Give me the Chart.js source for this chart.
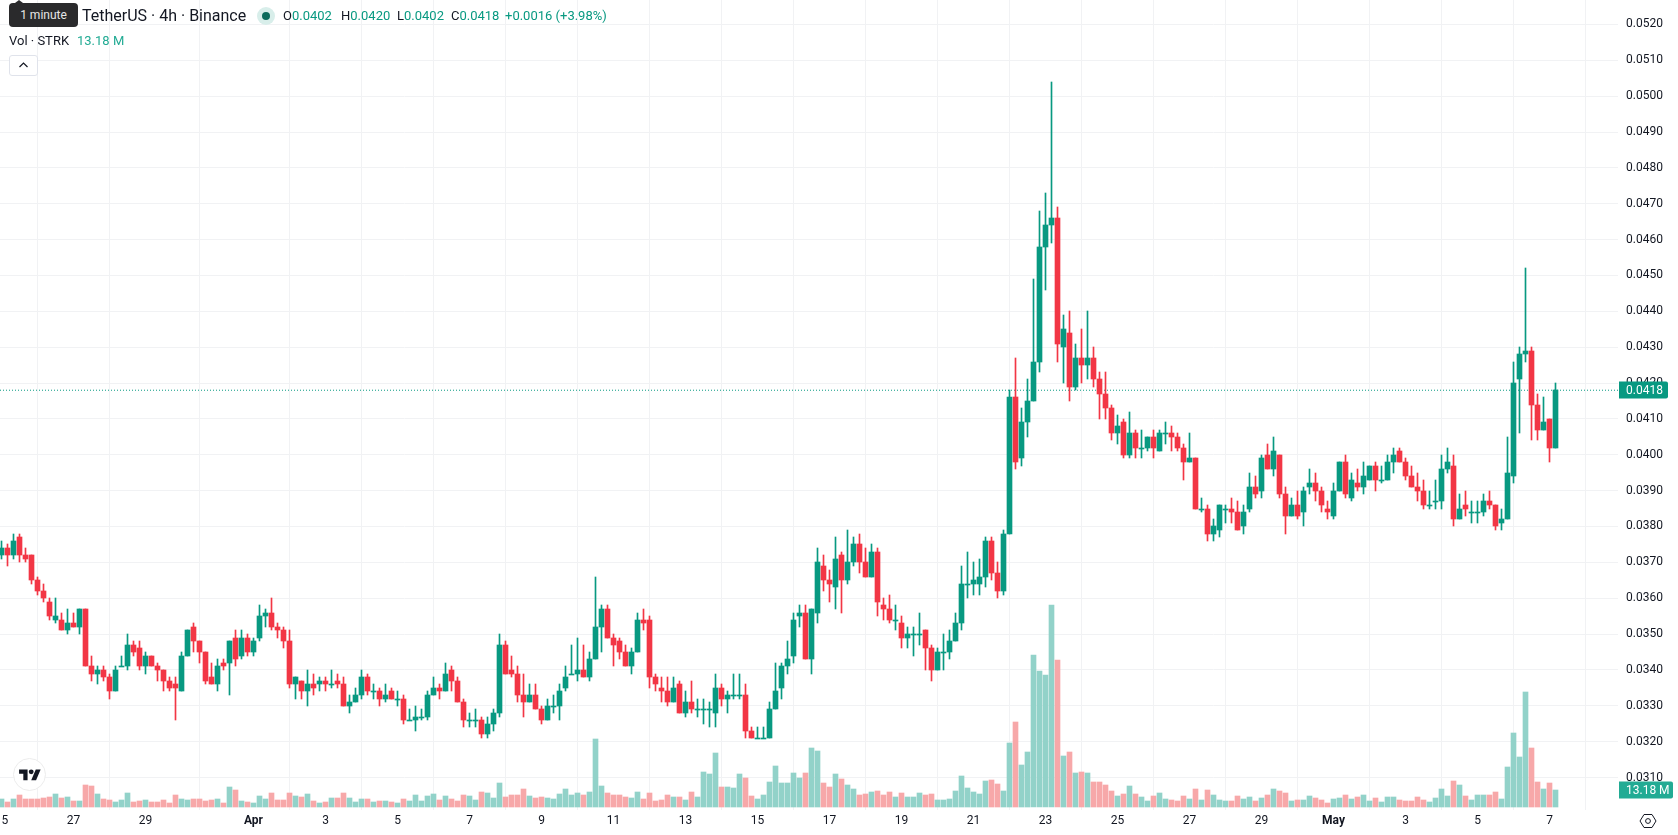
<!DOCTYPE html>
<html>
<head>
<meta charset="utf-8">
<title>STRK / TetherUS 4h</title>
<script src="https://cdn.jsdelivr.net/npm/chart.js@4"></script>
<style>
  html, body { margin: 0; padding: 0; background: #fff; width: 1678px; height: 835px; overflow: hidden; }
  body { position: relative; font-family: Roboto, sans-serif; color: #131722; }
  canvas { position: absolute; left: 0; top: 0; }
  .hud { position: absolute; white-space: pre; line-height: 18px; }
  .up { color: #089981; }
  .vol { color: #22ab94; }
  #tip { position: absolute; left: 9px; top: 3px; width: 69px; height: 24px; background: #2a2a2c; border-radius: 4px;
         color: #e6e6e6; font-size: 12px; line-height: 24px; text-align: center; }
  #tip:before { content: ""; position: absolute; left: 6px; top: -3px; border: 4px solid transparent; border-top: 0; border-bottom: 3px solid #2a2a2c; }
  #dot { position: absolute; left: 257px; top: 7px; width: 18px; height: 18px; border-radius: 50%; background: #d8eeea; }
  #dot:after { content: ""; position: absolute; left: 5px; top: 5px; width: 8px; height: 8px; border-radius: 50%; background: #0b6b5c; }
  #fold { position: absolute; left: 9px; top: 55px; width: 27px; height: 19px; border: 1px solid #e0e3eb; border-radius: 3px; background: #fff; }
  #fold svg { position: absolute; left: 8px; top: 5px; }
  #logo { position: absolute; left: 13px; top: 758px; width: 31px; height: 31px; border: 1px solid #ececec; border-radius: 50%; background: #fff; }
  #logo svg { position: absolute; left: 5px; top: 8px; }
  #gear { position: absolute; left: 1639px; top: 812px; }
</style>
</head>
<body>
<canvas id="chart" width="1678" height="835"></canvas>
<div id="tip">1 minute</div>
<div class="hud" style="left:82px;top:7px;font-size:16px">TetherUS · 4h · Binance</div>
<div id="dot"></div>
<div class="hud" style="left:283px;top:7px;font-size:13px">O<span class="up">0.0402</span></div>
<div class="hud" style="left:341px;top:7px;font-size:13px">H<span class="up">0.0420</span></div>
<div class="hud" style="left:397px;top:7px;font-size:13px">L<span class="up">0.0402</span></div>
<div class="hud" style="left:451px;top:7px;font-size:13px">C<span class="up">0.0418</span></div>
<div class="hud up" style="left:505px;top:7px;font-size:13px">+0.0016 (+3.98%)</div>
<div class="hud" style="left:9px;top:32px;font-size:13px">Vol · STRK</div>
<div class="hud vol" style="left:77px;top:32px;font-size:13px">13.18 M</div>
<div id="fold"><svg width="11" height="8" viewBox="0 0 11 8"><path d="M1.5 6 5.5 2l4 4" fill="none" stroke="#131722" stroke-width="1.2"/></svg></div>
<div id="logo"><svg width="22" height="17" viewBox="0 0 36 28"><path d="M14 22H7V11H0V4h14v18zM28 22h-8l7.5-18h8L28 22z" fill="#131722"/><circle cx="20" cy="8" r="4" fill="#131722"/></svg></div>
<svg id="gear" width="18" height="18" viewBox="0 0 18 18"><path d="M5 2.5h8L17 9l-4 6.5H5L1 9z" fill="none" stroke="#131722" stroke-width="1"/><circle cx="9" cy="9" r="2.4" fill="none" stroke="#131722" stroke-width="1"/></svg>

<script>
// STRK/USDT 4h candles, oldest first, starting 25 Mar 00:00.
const opens = [
0.0372,0.0374,0.0372,0.0377,0.0372,0.0372,0.0365,0.0362,0.0359,0.0354,
0.0354,0.0351,0.0353,0.0352,0.0357,0.0341,0.0339,0.0340,0.0338,0.0334,
0.0341,0.0341,0.0347,0.0346,0.0341,0.0344,0.0341,0.0340,0.0337,0.0336,
0.0334,0.0344,0.0352,0.0348,0.0345,0.0338,0.0336,0.0342,0.0342,0.0349,
0.0344,0.0349,0.0345,0.0349,0.0355,0.0356,0.0352,0.0351,0.0348,0.0336,
0.0337,0.0334,0.0336,0.0336,0.0337,0.0336,0.0337,0.0336,0.0330,0.0331,
0.0333,0.0338,0.0334,0.0334,0.0332,0.0334,0.0332,0.0332,0.0326,0.0326,
0.0327,0.0327,0.0333,0.0335,0.0334,0.0340,0.0337,0.0331,0.0326,0.0326,
0.0326,0.0322,0.0325,0.0328,0.0347,0.0340,0.0339,0.0333,0.0331,0.0333,
0.0329,0.0326,0.0330,0.0330,0.0335,0.0339,0.0339,0.0340,0.0338,0.0343,
0.0352,0.0357,0.0349,0.0348,0.0345,0.0341,0.0345,0.0354,0.0354,0.0338,
0.0335,0.0334,0.0331,0.0336,0.0328,0.0331,0.0329,0.0329,0.0329,0.0328,
0.0335,0.0332,0.0333,0.0333,0.0333,0.0323,0.0321,0.0321,0.0321,0.0329,
0.0335,0.0341,0.0344,0.0355,0.0356,0.0343,0.0356,0.0369,0.0365,0.0363,
0.0372,0.0365,0.0370,0.0375,0.0370,0.0366,0.0373,0.0358,0.0357,0.0354,
0.0353,0.0349,0.0350,0.0350,0.0351,0.0346,0.0340,0.0345,0.0345,0.0348,
0.0353,0.0364,0.0364,0.0364,0.0366,0.0376,0.0367,0.0362,0.0378,0.0416,
0.0399,0.0409,0.0415,0.0426,0.0458,0.0464,0.0466,0.0430,0.0434,0.0419,
0.0427,0.0425,0.0427,0.0421,0.0417,0.0413,0.0406,0.0409,0.0400,0.0406,
0.0402,0.0402,0.0405,0.0401,0.0406,0.0406,0.0405,0.0402,0.0398,0.0399,
0.0385,0.0385,0.0378,0.0379,0.0385,0.0385,0.0384,0.0380,0.0385,0.0391,
0.0390,0.0400,0.0396,0.0400,0.0389,0.0383,0.0386,0.0384,0.0391,0.0392,
0.0390,0.0385,0.0383,0.0390,0.0398,0.0388,0.0392,0.0391,0.0393,0.0397,
0.0393,0.0393,0.0398,0.0401,0.0398,0.0394,0.0391,0.0390,0.0386,0.0387,
0.0387,0.0396,0.0397,0.0382,0.0386,0.0384,0.0384,0.0384,0.0387,0.0386,
0.0381,0.0382,0.0394,0.0421,0.0428,0.0429,0.0414,0.0407,0.0410,0.0402];

const highs = [
0.0376,0.0375,0.0378,0.0378,0.0374,0.0372,0.0366,0.0364,0.0360,0.0360,
0.0356,0.0357,0.0356,0.0357,0.0357,0.0344,0.0341,0.0341,0.0339,0.0341,
0.0344,0.0350,0.0348,0.0348,0.0345,0.0344,0.0342,0.0340,0.0338,0.0338,
0.0345,0.0351,0.0353,0.0348,0.0345,0.0342,0.0343,0.0343,0.0348,0.0351,
0.0351,0.0350,0.0349,0.0358,0.0357,0.0360,0.0353,0.0352,0.0351,0.0338,
0.0337,0.0340,0.0339,0.0338,0.0338,0.0340,0.0339,0.0338,0.0333,0.0335,
0.0340,0.0339,0.0336,0.0335,0.0336,0.0335,0.0334,0.0333,0.0329,0.0330,
0.0329,0.0334,0.0338,0.0336,0.0342,0.0341,0.0338,0.0332,0.0328,0.0329,
0.0327,0.0327,0.0329,0.0350,0.0348,0.0344,0.0341,0.0339,0.0336,0.0336,
0.0330,0.0332,0.0333,0.0336,0.0341,0.0347,0.0349,0.0347,0.0345,0.0366,
0.0358,0.0358,0.0350,0.0349,0.0347,0.0346,0.0356,0.0357,0.0355,0.0339,
0.0338,0.0338,0.0338,0.0337,0.0334,0.0337,0.0332,0.0332,0.0331,0.0339,
0.0336,0.0334,0.0339,0.0339,0.0336,0.0324,0.0324,0.0324,0.0331,0.0342,
0.0342,0.0348,0.0356,0.0358,0.0358,0.0357,0.0374,0.0372,0.0368,0.0377,
0.0373,0.0379,0.0377,0.0378,0.0374,0.0375,0.0374,0.0360,0.0361,0.0358,
0.0355,0.0352,0.0352,0.0356,0.0351,0.0347,0.0346,0.0350,0.0351,0.0356,
0.0369,0.0373,0.0370,0.0371,0.0377,0.0377,0.0370,0.0379,0.0418,0.0427,
0.0413,0.0421,0.0449,0.0468,0.0473,0.0504,0.0469,0.0439,0.0440,0.0431,
0.0435,0.0440,0.0430,0.0423,0.0423,0.0414,0.0411,0.0410,0.0412,0.0407,
0.0407,0.0405,0.0407,0.0407,0.0409,0.0408,0.0406,0.0403,0.0406,0.0399,
0.0388,0.0386,0.0382,0.0386,0.0386,0.0388,0.0387,0.0386,0.0395,0.0394,
0.0400,0.0403,0.0405,0.0400,0.0391,0.0388,0.0390,0.0391,0.0396,0.0395,
0.0391,0.0387,0.0392,0.0398,0.0400,0.0395,0.0396,0.0398,0.0397,0.0398,
0.0397,0.0400,0.0402,0.0402,0.0399,0.0397,0.0395,0.0393,0.0390,0.0393,
0.0400,0.0402,0.0400,0.0389,0.0390,0.0387,0.0387,0.0389,0.0390,0.0386,
0.0385,0.0405,0.0426,0.0430,0.0452,0.0430,0.0417,0.0416,0.0410,0.0420];

const lows = [
0.0371,0.0369,0.0371,0.0370,0.0370,0.0364,0.0361,0.0359,0.0354,0.0353,
0.0351,0.0350,0.0352,0.0350,0.0341,0.0337,0.0336,0.0337,0.0332,0.0334,
0.0341,0.0340,0.0344,0.0340,0.0339,0.0341,0.0337,0.0334,0.0334,0.0326,
0.0334,0.0344,0.0345,0.0342,0.0336,0.0336,0.0334,0.0340,0.0333,0.0341,
0.0343,0.0344,0.0344,0.0348,0.0352,0.0351,0.0349,0.0346,0.0335,0.0332,
0.0332,0.0330,0.0333,0.0334,0.0334,0.0335,0.0335,0.0330,0.0328,0.0331,
0.0332,0.0333,0.0332,0.0330,0.0331,0.0332,0.0330,0.0325,0.0326,0.0323,
0.0326,0.0326,0.0333,0.0332,0.0334,0.0334,0.0331,0.0324,0.0324,0.0324,
0.0321,0.0321,0.0323,0.0327,0.0339,0.0338,0.0331,0.0327,0.0331,0.0329,
0.0325,0.0326,0.0328,0.0326,0.0334,0.0339,0.0337,0.0338,0.0337,0.0343,
0.0345,0.0349,0.0341,0.0343,0.0341,0.0339,0.0345,0.0351,0.0335,0.0334,
0.0331,0.0330,0.0331,0.0328,0.0327,0.0328,0.0327,0.0325,0.0324,0.0324,
0.0330,0.0328,0.0332,0.0332,0.0321,0.0321,0.0321,0.0321,0.0321,0.0329,
0.0332,0.0339,0.0342,0.0352,0.0343,0.0339,0.0353,0.0362,0.0359,0.0357,
0.0356,0.0364,0.0369,0.0367,0.0366,0.0366,0.0355,0.0354,0.0353,0.0351,
0.0346,0.0346,0.0344,0.0347,0.0340,0.0337,0.0340,0.0340,0.0343,0.0348,
0.0351,0.0360,0.0361,0.0361,0.0363,0.0365,0.0360,0.0361,0.0378,0.0396,
0.0397,0.0405,0.0415,0.0423,0.0446,0.0459,0.0426,0.0420,0.0415,0.0418,
0.0420,0.0421,0.0419,0.0410,0.0410,0.0404,0.0403,0.0399,0.0399,0.0399,
0.0399,0.0401,0.0399,0.0401,0.0403,0.0401,0.0401,0.0393,0.0398,0.0385,
0.0384,0.0376,0.0376,0.0377,0.0381,0.0381,0.0379,0.0378,0.0384,0.0388,
0.0388,0.0396,0.0394,0.0388,0.0378,0.0383,0.0382,0.0380,0.0389,0.0387,
0.0384,0.0382,0.0382,0.0390,0.0388,0.0387,0.0390,0.0389,0.0393,0.0390,
0.0392,0.0393,0.0395,0.0398,0.0393,0.0391,0.0387,0.0385,0.0385,0.0385,
0.0385,0.0395,0.0380,0.0382,0.0383,0.0381,0.0381,0.0383,0.0385,0.0379,
0.0379,0.0382,0.0392,0.0406,0.0426,0.0404,0.0404,0.0407,0.0398,0.0402];

const closes = [
0.0374,0.0372,0.0376,0.0372,0.0371,0.0365,0.0362,0.0360,0.0355,0.0355,
0.0351,0.0353,0.0352,0.0357,0.0341,0.0339,0.0340,0.0338,0.0334,0.0340,
0.0341,0.0347,0.0345,0.0341,0.0344,0.0341,0.0340,0.0337,0.0335,0.0335,
0.0344,0.0351,0.0348,0.0345,0.0337,0.0336,0.0341,0.0341,0.0348,0.0343,
0.0349,0.0345,0.0348,0.0355,0.0356,0.0352,0.0351,0.0348,0.0336,0.0338,
0.0334,0.0336,0.0335,0.0337,0.0336,0.0336,0.0336,0.0330,0.0331,0.0333,
0.0338,0.0334,0.0334,0.0332,0.0333,0.0332,0.0332,0.0326,0.0326,0.0327,
0.0327,0.0333,0.0335,0.0334,0.0339,0.0337,0.0331,0.0326,0.0326,0.0326,
0.0322,0.0325,0.0328,0.0347,0.0339,0.0339,0.0333,0.0331,0.0333,0.0329,
0.0326,0.0330,0.0330,0.0334,0.0338,0.0339,0.0340,0.0338,0.0343,0.0352,
0.0357,0.0349,0.0347,0.0345,0.0341,0.0345,0.0354,0.0353,0.0338,0.0336,
0.0334,0.0331,0.0335,0.0328,0.0331,0.0329,0.0329,0.0329,0.0329,0.0335,
0.0332,0.0333,0.0333,0.0333,0.0323,0.0321,0.0321,0.0321,0.0329,0.0334,
0.0341,0.0343,0.0354,0.0356,0.0343,0.0357,0.0370,0.0365,0.0364,0.0371,
0.0365,0.0370,0.0375,0.0370,0.0366,0.0373,0.0359,0.0357,0.0354,0.0354,
0.0349,0.0350,0.0350,0.0350,0.0346,0.0340,0.0345,0.0345,0.0348,0.0353,
0.0364,0.0364,0.0365,0.0366,0.0376,0.0367,0.0362,0.0378,0.0416,0.0398,
0.0409,0.0415,0.0426,0.0458,0.0464,0.0466,0.0431,0.0435,0.0419,0.0427,
0.0425,0.0427,0.0421,0.0417,0.0413,0.0406,0.0408,0.0400,0.0406,0.0402,
0.0402,0.0405,0.0402,0.0406,0.0406,0.0405,0.0402,0.0398,0.0399,0.0385,
0.0385,0.0378,0.0380,0.0386,0.0385,0.0384,0.0379,0.0384,0.0391,0.0389,
0.0399,0.0396,0.0401,0.0389,0.0383,0.0386,0.0383,0.0390,0.0392,0.0390,
0.0386,0.0384,0.0390,0.0398,0.0389,0.0393,0.0391,0.0394,0.0397,0.0393,
0.0393,0.0398,0.0400,0.0398,0.0394,0.0391,0.0390,0.0386,0.0386,0.0387,
0.0396,0.0398,0.0382,0.0385,0.0385,0.0384,0.0384,0.0387,0.0386,0.0380,
0.0382,0.0395,0.0420,0.0428,0.0429,0.0414,0.0407,0.0409,0.0402,0.0418];

// Traded volume per candle, in millions of STRK.
const volumes = [
6.2,3.9,6.2,9.3,6.2,6.2,6.2,7.0,7.8,10.1,
7.0,7.8,4.7,4.7,17.1,16.3,10.1,6.2,5.4,3.9,
5.4,10.9,3.9,4.7,5.4,3.9,3.9,5.4,3.1,9.3,
6.2,5.4,6.2,6.2,4.7,5.4,6.2,3.1,15.5,13.2,
4.7,3.9,3.1,8.5,6.2,10.9,5.4,5.4,10.9,8.5,
7.8,10.1,4.7,3.1,3.9,7.0,7.0,10.9,7.0,3.9,
6.2,6.2,3.9,4.7,4.7,3.9,3.1,6.2,4.7,9.3,
4.7,8.5,10.1,5.4,8.5,6.2,4.7,9.3,8.5,5.4,
11.6,10.9,7.0,18.6,7.8,9.3,9.3,14.0,8.5,7.0,
7.8,7.0,6.2,10.1,14.0,9.3,10.9,9.3,11.6,52.7,
16.3,10.9,9.3,9.3,7.8,7.0,11.6,6.2,10.9,4.7,
5.4,9.3,7.8,7.8,5.4,11.6,7.8,27.1,25.6,41.9,
15.5,15.5,14.7,25.6,22.5,8.5,6.2,9.3,19.4,31.8,
18.6,18.6,26.4,22.5,26.4,45.7,43.4,18.6,15.5,25.6,
21.7,17.1,14.0,9.3,10.1,11.6,12.4,9.3,11.6,7.8,
10.9,7.8,7.8,10.9,9.3,10.1,5.4,5.4,6.2,12.4,
24.0,14.7,11.6,10.1,20.2,20.9,17.8,12.4,49.6,65.9,
32.6,42.6,117.8,105.4,102.3,156.8,114.0,39.5,42.6,26.4,
27.1,26.4,19.4,19.4,17.1,12.4,8.5,10.1,16.3,10.1,
7.8,4.7,8.5,10.9,6.2,5.4,4.7,8.5,6.2,14.0,
5.4,13.2,9.3,5.4,4.7,4.7,8.5,6.2,7.8,4.7,
7.0,9.3,14.0,12.4,10.9,4.7,5.4,5.4,8.5,7.0,
5.4,3.1,6.2,7.0,9.3,6.2,7.8,9.3,4.7,7.0,
3.9,7.8,7.8,5.4,4.7,4.7,7.8,5.4,3.9,7.0,
14.0,8.5,20.2,17.1,8.5,5.4,9.3,9.3,9.3,11.6,
6.2,31.0,57.4,38.8,89.1,45.7,19.4,14.0,18.6,13.18];

// Date axis: candle index of each labelled tick, and its text.
// The first tick sits on the pane's left edge, so only the last digit of its date is shown.
const dateTicks = [0,12,24,42,54,66,78,90,102,114,126,138,150,162,174,186,198,210,222,234,246,258];
const dateLabels = ['\u20075','27','29','Apr','3','5','7','9','11','13','15','17','19','21','23','25','27','29','May','3','5','7'];
const priceTicks = [0.031,0.032,0.033,0.034,0.035,0.036,0.037,0.038,0.039,0.040,0.041,0.042,0.043,0.044,0.045,0.046,0.047,0.048,0.049,0.050,0.051,0.052];

const UP = '#089981', DOWN = '#f23645', UP_VOL = '#92d2c9', DOWN_VOL = '#f7a8a9', GRID = '#f1f2f4';
const lastClose = closes[closes.length - 1];
const lastVolume = volumes[volumes.length - 1];
const rising = closes.map((c, i) => c >= opens[i]);
const upDown = rising.map(r => r ? UP : DOWN);
const FONT = 'Roboto, sans-serif';

// Bars are snapped to whole pixels so candles stay crisp; flat candles keep a 1px body.
const crispBars = {
  id: 'crispBars',
  beforeDatasetsDraw(chart) {
    chart.getSortedVisibleDatasetMetas().forEach(meta => {
      if (meta.type !== 'bar') return;
      meta.data.forEach(el => {
        const top = Math.round(Math.min(el.y, el.base));
        let bottom = Math.round(Math.max(el.y, el.base));
        if (bottom === top) bottom = top + 1;
        el.y = top; el.base = bottom;
      });
    });
  }
};

function drawTag(ctx, left, right, centre, fill, text) {
  ctx.fillStyle = fill;
  ctx.beginPath();
  ctx.roundRect(left, Math.round(centre) - 8.5, right - left, 17, [0, 2, 2, 0]);
  ctx.fill();
  ctx.fillStyle = '#fff';
  ctx.font = '12px ' + FONT;
  ctx.textAlign = 'left';
  ctx.textBaseline = 'middle';
  ctx.fillText(text, left + 7, Math.round(centre) + 0.5);
}

// Last-price and last-volume tags sit over the price axis.
const axisTags = {
  id: 'axisTags',
  afterDraw(chart) {
    const { ctx, scales } = chart;
    ctx.save();
    drawTag(ctx, 1619, 1668, scales.y.getPixelForValue(lastClose), UP, lastClose.toFixed(4));
    drawTag(ctx, 1619, 1673, scales.yVol.getPixelForValue(lastVolume), '#22ab94', lastVolume.toFixed(2) + ' M');
    ctx.restore();
  }
};

const idx = opens.map((_, i) => i);
new Chart(document.getElementById('chart'), {
  type: 'bar',
  data: {
    datasets: [
      { label: 'Body', order: 1, barThickness: 5, backgroundColor: upDown,
        data: idx.map(i => ({ x: i, y: [opens[i], closes[i]] })) },
      { label: 'Wick', order: 2, barThickness: 1, backgroundColor: upDown,
        data: idx.map(i => ({ x: i, y: [lows[i], highs[i]] })) },
      { label: 'Volume', order: 4, barThickness: 5, yAxisID: 'yVol',
        backgroundColor: rising.map(r => r ? UP_VOL : DOWN_VOL),
        data: idx.map(i => ({ x: i, y: volumes[i] })) },
      { label: 'Last', type: 'line', order: 3, borderColor: UP, borderWidth: 1, borderDash: [1, 2],
        pointRadius: 0, data: [{ x: -0.25, y: lastClose }, { x: 269.4167, y: lastClose }] }
    ]
  },
  options: {
    responsive: false,
    animation: false,
    events: [],
    layout: { padding: 0 },
    plugins: { legend: { display: false }, tooltip: { enabled: false } },
    datasets: { bar: { grouped: false, borderWidth: 0 } },
    scales: {
      x: {
        type: 'linear', min: -0.25, max: 269.4167, offset: false,
        afterBuildTicks(s) { s.ticks = dateTicks.map(value => ({ value })); },
        afterFit(s) { s.height = 25; s.paddingLeft = 0; s.paddingRight = 0; },
        grid: { color: GRID, drawTicks: false },
        border: { display: false },
        ticks: {
          autoSkip: false, maxRotation: 0, padding: 4, color: '#131722',
          callback: v => dateLabels[dateTicks.indexOf(v)],
          font: c => {
            const t = dateLabels[dateTicks.indexOf(c.tick && c.tick.value)];
            return { family: FONT, size: 12, weight: (t === 'Apr' || t === 'May') ? '700' : '400' };
          }
        }
      },
      y: {
        position: 'right', min: 0.030094, max: 0.052682,
        afterBuildTicks(s) { s.ticks = priceTicks.map(value => ({ value })); },
        afterFit(s) { s.width = 60; s.paddingTop = 0; s.paddingBottom = 0; },
        grid: { color: GRID, drawTicks: false },
        border: { display: false },
        ticks: { padding: 8, color: '#131722', font: { family: FONT, size: 12 }, callback: v => v.toFixed(4) }
      },
      yVol: { display: false, position: 'right', min: -2.326, max: 625.6 }
    }
  },
  plugins: [crispBars, axisTags]
});
</script>
</body>
</html>
